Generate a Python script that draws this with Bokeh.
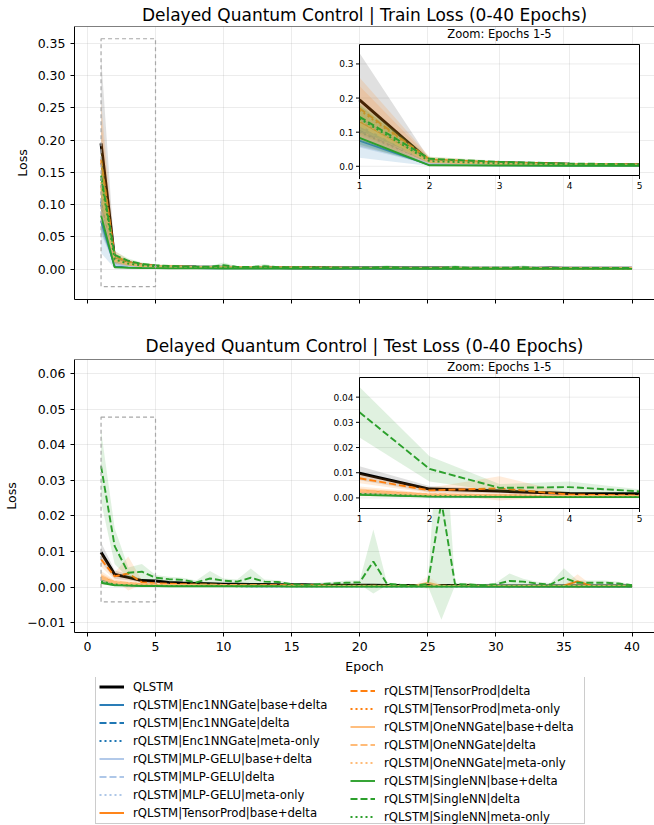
import numpy as np
from bokeh.plotting import figure
from bokeh.models import Range1d, FixedTicker, Legend, LegendItem, Span, CustomJSTickFormatter
from bokeh.layouts import column
from bokeh.embed import file_html
from bokeh.resources import INLINE
from bokeh.core.properties import value

# ---------------- data ----------------
epochs = list(range(1, 41))
x_ticks = [0, 5, 10, 15, 20, 25, 30, 35, 40]
train_y_ticks = [0.0, 0.05, 0.10, 0.15, 0.20, 0.25, 0.30, 0.35]
test_y_ticks = [-0.01, 0.0, 0.01, 0.02, 0.03, 0.04, 0.05, 0.06]
train_y_limits = [-0.047, 0.376]
test_y_limits = [-0.0128, 0.064]
zoom_epochs = [1, 5]
train_zoom_y = [-0.027, 0.357]
test_zoom_y = [-0.0042, 0.0478]
inset_x_ticks = [1, 2, 3, 4, 5]
inset_x_labels = ["1", "2", "3", "4", "5"]
train_inset_y_ticks = [0.0, 0.1, 0.2, 0.3]
train_inset_y_labels = ["0.0", "0.1", "0.2", "0.3"]
test_inset_y_ticks = [0.0, 0.01, 0.02, 0.03, 0.04]
test_inset_y_labels = ["0.00", "0.01", "0.02", "0.03", "0.04"]

series_names = [
    "QLSTM",
    "rQLSTM|Enc1NNGate|base+delta", "rQLSTM|Enc1NNGate|delta", "rQLSTM|Enc1NNGate|meta-only",
    "rQLSTM|MLP-GELU|base+delta", "rQLSTM|MLP-GELU|delta", "rQLSTM|MLP-GELU|meta-only",
    "rQLSTM|TensorProd|base+delta", "rQLSTM|TensorProd|delta", "rQLSTM|TensorProd|meta-only",
    "rQLSTM|OneNNGate|base+delta", "rQLSTM|OneNNGate|delta", "rQLSTM|OneNNGate|meta-only",
    "rQLSTM|SingleNN|base+delta", "rQLSTM|SingleNN|delta", "rQLSTM|SingleNN|meta-only",
]

# ---- train loss (mean / std) ----
qlstm_train = [0.195, 0.0150, 0.0100, 0.0060, 0.0045, 0.0040, 0.0036, 0.0033, 0.0031, 0.0029, 0.0027, 0.0026, 0.0025, 0.0024, 0.0023, 0.0022, 0.0021, 0.0020, 0.0020, 0.0019, 0.0019, 0.0018, 0.0018, 0.0017, 0.0017, 0.0017, 0.0016, 0.0016, 0.0016, 0.0015, 0.0015, 0.0015, 0.0015, 0.0019, 0.0015, 0.0014, 0.0014, 0.0014, 0.0013, 0.0013]
qlstm_train_sd = [0.137, 0.0060, 0.0040, 0.0020, 0.0015, 0.0012, 0.0011, 0.0010, 0.0010, 0.0009, 0.0009, 0.0008, 0.0008, 0.0008, 0.0007, 0.0007, 0.0007, 0.0006, 0.0006, 0.0006, 0.0006, 0.0006, 0.0005, 0.0005, 0.0005, 0.0005, 0.0005, 0.0005, 0.0005, 0.0004, 0.0004, 0.0004, 0.0004, 0.0012, 0.0005, 0.0004, 0.0004, 0.0004, 0.0004, 0.0004]
enc_bd_train = [0.075, 0.0040, 0.0030, 0.0025, 0.0021, 0.0019, 0.0017, 0.0016, 0.0015, 0.0015, 0.0014, 0.0013, 0.0013, 0.0012, 0.0012, 0.0012, 0.0011, 0.0011, 0.0011, 0.0010, 0.0010, 0.0010, 0.0010, 0.0009, 0.0009, 0.0009, 0.0009, 0.0009, 0.0008, 0.0008, 0.0008, 0.0008, 0.0008, 0.0008, 0.0007, 0.0007, 0.0007, 0.0007, 0.0007, 0.0007]
enc_bd_train_sd = [0.050, 0.0030, 0.0015, 0.0012, 0.0010, 0.0009, 0.0008, 0.0008, 0.0007, 0.0007, 0.0007, 0.0006, 0.0006, 0.0006, 0.0006, 0.0005, 0.0005, 0.0005, 0.0005, 0.0005, 0.0005, 0.0004, 0.0004, 0.0004, 0.0004, 0.0004, 0.0004, 0.0004, 0.0004, 0.0004, 0.0003, 0.0003, 0.0003, 0.0003, 0.0003, 0.0003, 0.0003, 0.0003, 0.0003, 0.0003]
enc_d_train = [0.105, 0.0120, 0.0070, 0.0050, 0.0040, 0.0034, 0.0030, 0.0028, 0.0026, 0.0025, 0.0024, 0.0023, 0.0022, 0.0021, 0.0020, 0.0020, 0.0019, 0.0018, 0.0018, 0.0017, 0.0017, 0.0017, 0.0016, 0.0016, 0.0016, 0.0015, 0.0015, 0.0015, 0.0014, 0.0014, 0.0014, 0.0014, 0.0013, 0.0013, 0.0013, 0.0013, 0.0012, 0.0012, 0.0012, 0.0012]
enc_d_train_sd = [0.040, 0.0050, 0.0025, 0.0018, 0.0014, 0.0012, 0.0011, 0.0010, 0.0010, 0.0009, 0.0009, 0.0008, 0.0008, 0.0008, 0.0007, 0.0007, 0.0007, 0.0007, 0.0006, 0.0006, 0.0006, 0.0006, 0.0006, 0.0006, 0.0005, 0.0005, 0.0005, 0.0005, 0.0005, 0.0005, 0.0005, 0.0005, 0.0004, 0.0004, 0.0004, 0.0004, 0.0004, 0.0004, 0.0004, 0.0004]
enc_m_train = [0.100, 0.0100, 0.0060, 0.0042, 0.0035, 0.0031, 0.0028, 0.0026, 0.0025, 0.0024, 0.0023, 0.0022, 0.0021, 0.0020, 0.0019, 0.0019, 0.0018, 0.0018, 0.0017, 0.0017, 0.0016, 0.0016, 0.0016, 0.0015, 0.0015, 0.0015, 0.0014, 0.0014, 0.0014, 0.0014, 0.0013, 0.0013, 0.0013, 0.0013, 0.0012, 0.0012, 0.0012, 0.0012, 0.0012, 0.0011]
enc_m_train_sd = [0.045, 0.0045, 0.0022, 0.0016, 0.0013, 0.0011, 0.0010, 0.0009, 0.0009, 0.0008, 0.0008, 0.0008, 0.0007, 0.0007, 0.0007, 0.0007, 0.0006, 0.0006, 0.0006, 0.0006, 0.0006, 0.0005, 0.0005, 0.0005, 0.0005, 0.0005, 0.0005, 0.0005, 0.0005, 0.0004, 0.0004, 0.0004, 0.0004, 0.0004, 0.0004, 0.0004, 0.0004, 0.0004, 0.0004, 0.0004]
mlp_bd_train = [0.090, 0.0080, 0.0050, 0.0036, 0.0030, 0.0027, 0.0025, 0.0023, 0.0022, 0.0021, 0.0020, 0.0019, 0.0018, 0.0018, 0.0017, 0.0017, 0.0016, 0.0016, 0.0015, 0.0015, 0.0015, 0.0014, 0.0014, 0.0014, 0.0013, 0.0013, 0.0013, 0.0013, 0.0012, 0.0012, 0.0012, 0.0012, 0.0012, 0.0011, 0.0011, 0.0011, 0.0011, 0.0011, 0.0010, 0.0010]
mlp_bd_train_sd = [0.030, 0.0035, 0.0018, 0.0013, 0.0011, 0.0010, 0.0009, 0.0008, 0.0008, 0.0007, 0.0007, 0.0007, 0.0006, 0.0006, 0.0006, 0.0006, 0.0005, 0.0005, 0.0005, 0.0005, 0.0005, 0.0005, 0.0004, 0.0004, 0.0004, 0.0004, 0.0004, 0.0004, 0.0004, 0.0004, 0.0004, 0.0003, 0.0003, 0.0003, 0.0003, 0.0003, 0.0003, 0.0003, 0.0003, 0.0003]
mlp_d_train = [0.110, 0.0120, 0.0068, 0.0046, 0.0037, 0.0032, 0.0029, 0.0027, 0.0025, 0.0024, 0.0023, 0.0022, 0.0021, 0.0020, 0.0020, 0.0019, 0.0018, 0.0018, 0.0017, 0.0017, 0.0017, 0.0016, 0.0016, 0.0015, 0.0015, 0.0015, 0.0015, 0.0014, 0.0014, 0.0014, 0.0014, 0.0013, 0.0013, 0.0013, 0.0013, 0.0012, 0.0012, 0.0012, 0.0012, 0.0012]
mlp_d_train_sd = [0.030, 0.0045, 0.0022, 0.0015, 0.0012, 0.0011, 0.0010, 0.0009, 0.0009, 0.0008, 0.0008, 0.0008, 0.0007, 0.0007, 0.0007, 0.0006, 0.0006, 0.0006, 0.0006, 0.0006, 0.0005, 0.0005, 0.0005, 0.0005, 0.0005, 0.0005, 0.0005, 0.0004, 0.0004, 0.0004, 0.0004, 0.0004, 0.0004, 0.0004, 0.0004, 0.0004, 0.0004, 0.0004, 0.0003, 0.0003]
mlp_m_train = [0.120, 0.0130, 0.0072, 0.0048, 0.0038, 0.0033, 0.0030, 0.0028, 0.0026, 0.0025, 0.0024, 0.0023, 0.0022, 0.0021, 0.0020, 0.0020, 0.0019, 0.0018, 0.0018, 0.0018, 0.0017, 0.0017, 0.0016, 0.0016, 0.0016, 0.0015, 0.0015, 0.0015, 0.0015, 0.0014, 0.0014, 0.0014, 0.0014, 0.0013, 0.0013, 0.0013, 0.0013, 0.0013, 0.0012, 0.0012]
mlp_m_train_sd = [0.030, 0.0050, 0.0024, 0.0016, 0.0013, 0.0011, 0.0010, 0.0010, 0.0009, 0.0009, 0.0008, 0.0008, 0.0008, 0.0007, 0.0007, 0.0007, 0.0007, 0.0006, 0.0006, 0.0006, 0.0006, 0.0006, 0.0005, 0.0005, 0.0005, 0.0005, 0.0005, 0.0005, 0.0005, 0.0004, 0.0004, 0.0004, 0.0004, 0.0004, 0.0004, 0.0004, 0.0004, 0.0004, 0.0004, 0.0004]
tp_bd_train = [0.130, 0.0140, 0.0080, 0.0055, 0.0042, 0.0036, 0.0032, 0.0030, 0.0028, 0.0026, 0.0025, 0.0024, 0.0023, 0.0022, 0.0021, 0.0021, 0.0020, 0.0019, 0.0019, 0.0018, 0.0018, 0.0017, 0.0017, 0.0017, 0.0016, 0.0020, 0.0016, 0.0015, 0.0015, 0.0015, 0.0015, 0.0014, 0.0014, 0.0014, 0.0014, 0.0018, 0.0014, 0.0013, 0.0013, 0.0013]
tp_bd_train_sd = [0.050, 0.0055, 0.0030, 0.0020, 0.0016, 0.0014, 0.0012, 0.0011, 0.0010, 0.0010, 0.0009, 0.0009, 0.0008, 0.0008, 0.0008, 0.0008, 0.0007, 0.0007, 0.0007, 0.0007, 0.0006, 0.0006, 0.0006, 0.0006, 0.0006, 0.0025, 0.0006, 0.0005, 0.0005, 0.0005, 0.0005, 0.0005, 0.0005, 0.0005, 0.0005, 0.0020, 0.0005, 0.0004, 0.0004, 0.0004]
tp_d_train = [0.170, 0.0200, 0.0110, 0.0070, 0.0052, 0.0044, 0.0039, 0.0035, 0.0032, 0.0030, 0.0029, 0.0027, 0.0026, 0.0025, 0.0024, 0.0023, 0.0022, 0.0022, 0.0021, 0.0020, 0.0020, 0.0019, 0.0019, 0.0018, 0.0018, 0.0018, 0.0017, 0.0017, 0.0017, 0.0016, 0.0016, 0.0016, 0.0015, 0.0015, 0.0015, 0.0015, 0.0015, 0.0014, 0.0014, 0.0014]
tp_d_train_sd = [0.090, 0.0080, 0.0040, 0.0025, 0.0019, 0.0016, 0.0014, 0.0013, 0.0012, 0.0011, 0.0010, 0.0010, 0.0009, 0.0009, 0.0009, 0.0008, 0.0008, 0.0008, 0.0007, 0.0007, 0.0007, 0.0007, 0.0007, 0.0006, 0.0006, 0.0006, 0.0006, 0.0006, 0.0006, 0.0005, 0.0005, 0.0005, 0.0005, 0.0005, 0.0005, 0.0005, 0.0005, 0.0005, 0.0005, 0.0005]
tp_m_train = [0.165, 0.0180, 0.0100, 0.0066, 0.0050, 0.0043, 0.0038, 0.0034, 0.0031, 0.0029, 0.0028, 0.0026, 0.0025, 0.0024, 0.0023, 0.0022, 0.0022, 0.0021, 0.0020, 0.0020, 0.0019, 0.0019, 0.0018, 0.0018, 0.0018, 0.0017, 0.0017, 0.0017, 0.0016, 0.0016, 0.0016, 0.0015, 0.0015, 0.0015, 0.0015, 0.0015, 0.0014, 0.0014, 0.0014, 0.0014]
tp_m_train_sd = [0.070, 0.0070, 0.0035, 0.0023, 0.0018, 0.0015, 0.0013, 0.0012, 0.0011, 0.0010, 0.0010, 0.0009, 0.0009, 0.0008, 0.0008, 0.0008, 0.0008, 0.0007, 0.0007, 0.0007, 0.0007, 0.0006, 0.0006, 0.0006, 0.0006, 0.0006, 0.0006, 0.0006, 0.0005, 0.0005, 0.0005, 0.0005, 0.0005, 0.0005, 0.0005, 0.0005, 0.0005, 0.0005, 0.0004, 0.0004]
one_bd_train = [0.125, 0.0130, 0.0075, 0.0052, 0.0042, 0.0045, 0.0040, 0.0030, 0.0027, 0.0026, 0.0024, 0.0023, 0.0022, 0.0021, 0.0021, 0.0020, 0.0019, 0.0019, 0.0018, 0.0018, 0.0017, 0.0017, 0.0017, 0.0016, 0.0016, 0.0016, 0.0015, 0.0015, 0.0015, 0.0015, 0.0014, 0.0014, 0.0014, 0.0014, 0.0013, 0.0013, 0.0013, 0.0013, 0.0013, 0.0012]
one_bd_train_sd = [0.050, 0.0050, 0.0028, 0.0019, 0.0016, 0.0030, 0.0025, 0.0011, 0.0010, 0.0009, 0.0009, 0.0008, 0.0008, 0.0008, 0.0007, 0.0007, 0.0007, 0.0007, 0.0006, 0.0006, 0.0006, 0.0006, 0.0006, 0.0005, 0.0005, 0.0005, 0.0005, 0.0005, 0.0005, 0.0005, 0.0005, 0.0005, 0.0004, 0.0004, 0.0004, 0.0004, 0.0004, 0.0004, 0.0004, 0.0004]
one_d_train = [0.120, 0.0150, 0.0085, 0.0058, 0.0045, 0.0039, 0.0035, 0.0032, 0.0029, 0.0027, 0.0026, 0.0025, 0.0024, 0.0023, 0.0022, 0.0021, 0.0021, 0.0020, 0.0019, 0.0019, 0.0018, 0.0018, 0.0018, 0.0017, 0.0017, 0.0016, 0.0016, 0.0016, 0.0016, 0.0015, 0.0015, 0.0015, 0.0015, 0.0014, 0.0014, 0.0014, 0.0014, 0.0013, 0.0013, 0.0013]
one_d_train_sd = [0.040, 0.0060, 0.0030, 0.0020, 0.0016, 0.0014, 0.0012, 0.0011, 0.0010, 0.0010, 0.0009, 0.0009, 0.0008, 0.0008, 0.0008, 0.0007, 0.0007, 0.0007, 0.0007, 0.0006, 0.0006, 0.0006, 0.0006, 0.0006, 0.0005, 0.0005, 0.0005, 0.0005, 0.0005, 0.0005, 0.0005, 0.0005, 0.0004, 0.0004, 0.0004, 0.0004, 0.0004, 0.0004, 0.0004, 0.0004]
one_m_train = [0.135, 0.0160, 0.0090, 0.0060, 0.0047, 0.0040, 0.0036, 0.0033, 0.0030, 0.0028, 0.0027, 0.0026, 0.0025, 0.0024, 0.0023, 0.0022, 0.0021, 0.0021, 0.0020, 0.0019, 0.0019, 0.0019, 0.0018, 0.0018, 0.0017, 0.0017, 0.0017, 0.0016, 0.0016, 0.0016, 0.0016, 0.0015, 0.0015, 0.0015, 0.0015, 0.0014, 0.0014, 0.0014, 0.0014, 0.0014]
one_m_train_sd = [0.050, 0.0060, 0.0032, 0.0021, 0.0017, 0.0014, 0.0013, 0.0012, 0.0011, 0.0010, 0.0010, 0.0009, 0.0009, 0.0008, 0.0008, 0.0008, 0.0007, 0.0007, 0.0007, 0.0007, 0.0006, 0.0006, 0.0006, 0.0006, 0.0006, 0.0006, 0.0005, 0.0005, 0.0005, 0.0005, 0.0005, 0.0005, 0.0005, 0.0005, 0.0004, 0.0004, 0.0004, 0.0004, 0.0004, 0.0004]
sn_bd_train = [0.083, 0.0030, 0.0022, 0.0018, 0.0016, 0.0014, 0.0013, 0.0012, 0.0012, 0.0011, 0.0011, 0.0010, 0.0010, 0.0010, 0.0009, 0.0009, 0.0009, 0.0009, 0.0008, 0.0008, 0.0008, 0.0008, 0.0008, 0.0007, 0.0007, 0.0007, 0.0007, 0.0007, 0.0007, 0.0007, 0.0006, 0.0006, 0.0006, 0.0006, 0.0006, 0.0006, 0.0006, 0.0006, 0.0006, 0.0005]
sn_bd_train_sd = [0.020, 0.0010, 0.0008, 0.0007, 0.0006, 0.0006, 0.0005, 0.0005, 0.0005, 0.0005, 0.0004, 0.0004, 0.0004, 0.0004, 0.0004, 0.0004, 0.0004, 0.0003, 0.0003, 0.0003, 0.0003, 0.0003, 0.0003, 0.0003, 0.0003, 0.0003, 0.0003, 0.0003, 0.0003, 0.0003, 0.0003, 0.0002, 0.0002, 0.0002, 0.0002, 0.0002, 0.0002, 0.0002, 0.0002, 0.0002]
sn_d_train = [0.145, 0.0220, 0.0130, 0.0080, 0.0060, 0.0050, 0.0044, 0.0040, 0.0038, 0.0060, 0.0036, 0.0034, 0.0045, 0.0032, 0.0030, 0.0029, 0.0028, 0.0027, 0.0027, 0.0026, 0.0025, 0.0036, 0.0025, 0.0024, 0.0023, 0.0023, 0.0034, 0.0022, 0.0022, 0.0021, 0.0021, 0.0032, 0.0020, 0.0020, 0.0020, 0.0019, 0.0019, 0.0019, 0.0018, 0.0018]
sn_d_train_sd = [0.040, 0.0060, 0.0035, 0.0022, 0.0017, 0.0014, 0.0013, 0.0012, 0.0011, 0.0045, 0.0010, 0.0010, 0.0035, 0.0009, 0.0009, 0.0008, 0.0008, 0.0008, 0.0008, 0.0007, 0.0007, 0.0030, 0.0007, 0.0007, 0.0006, 0.0006, 0.0030, 0.0006, 0.0006, 0.0006, 0.0006, 0.0030, 0.0005, 0.0005, 0.0005, 0.0005, 0.0005, 0.0005, 0.0005, 0.0005]
sn_m_train = [0.140, 0.0150, 0.0085, 0.0058, 0.0045, 0.0039, 0.0035, 0.0032, 0.0030, 0.0028, 0.0027, 0.0026, 0.0025, 0.0024, 0.0023, 0.0022, 0.0021, 0.0021, 0.0020, 0.0020, 0.0019, 0.0019, 0.0018, 0.0018, 0.0018, 0.0017, 0.0017, 0.0017, 0.0016, 0.0016, 0.0016, 0.0016, 0.0015, 0.0015, 0.0015, 0.0015, 0.0014, 0.0014, 0.0014, 0.0014]
sn_m_train_sd = [0.040, 0.0055, 0.0030, 0.0020, 0.0016, 0.0014, 0.0012, 0.0011, 0.0010, 0.0010, 0.0009, 0.0009, 0.0008, 0.0008, 0.0008, 0.0007, 0.0007, 0.0007, 0.0007, 0.0006, 0.0006, 0.0006, 0.0006, 0.0006, 0.0006, 0.0005, 0.0005, 0.0005, 0.0005, 0.0005, 0.0005, 0.0005, 0.0005, 0.0004, 0.0004, 0.0004, 0.0004, 0.0004, 0.0004, 0.0004]

# ---- test loss (mean / std) ----
qlstm_test = [0.0098, 0.0035, 0.0027, 0.0018, 0.0017, 0.0013, 0.0011, 0.0010, 0.0009, 0.0008, 0.0008, 0.0007, 0.0007, 0.0006, 0.0006, 0.0006, 0.0005, 0.0005, 0.0005, 0.0005, 0.0005, 0.0004, 0.0004, 0.0004, 0.0004, 0.0004, 0.0004, 0.0004, 0.0003, 0.0003, 0.0003, 0.0003, 0.0003, 0.0003, 0.0003, 0.0003, 0.0003, 0.0003, 0.0003, 0.0003]
qlstm_test_sd = [0.0028, 0.0012, 0.0008, 0.0005, 0.0005, 0.0004, 0.0003, 0.0003, 0.0003, 0.0003, 0.0002, 0.0002, 0.0002, 0.0002, 0.0002, 0.0002, 0.0002, 0.0002, 0.0002, 0.0002, 0.0002, 0.0002, 0.0001, 0.0001, 0.0001, 0.0001, 0.0001, 0.0001, 0.0001, 0.0001, 0.0001, 0.0001, 0.0001, 0.0001, 0.0001, 0.0001, 0.0001, 0.0001, 0.0001, 0.0001]
enc_bd_test = [0.0015, 0.0006, 0.0005, 0.0004, 0.0004, 0.0003, 0.0003, 0.0003, 0.0003, 0.0003, 0.0003, 0.0002, 0.0002, 0.0002, 0.0002, 0.0002, 0.0002, 0.0002, 0.0002, 0.0002, 0.0002, 0.0002, 0.0002, 0.0002, 0.0002, 0.0002, 0.0002, 0.0002, 0.0002, 0.0002, 0.0002, 0.0002, 0.0002, 0.0002, 0.0002, 0.0002, 0.0002, 0.0002, 0.0002, 0.0002]
enc_bd_test_sd = [0.0006, 0.0003, 0.0002, 0.0002, 0.0002, 0.0001, 0.0001, 0.0001, 0.0001, 0.0001, 0.0001, 0.0001, 0.0001, 0.0001, 0.0001, 0.0001, 0.0001, 0.0001, 0.0001, 0.0001, 0.0001, 0.0001, 0.0001, 0.0001, 0.0001, 0.0001, 0.0001, 0.0001, 0.0001, 0.0001, 0.0001, 0.0001, 0.0001, 0.0001, 0.0001, 0.0001, 0.0001, 0.0001, 0.0001, 0.0001]
enc_d_test = [0.0022, 0.0010, 0.0008, 0.0006, 0.0005, 0.0005, 0.0004, 0.0004, 0.0004, 0.0004, 0.0003, 0.0003, 0.0003, 0.0003, 0.0003, 0.0003, 0.0003, 0.0003, 0.0003, 0.0003, 0.0003, 0.0003, 0.0003, 0.0003, 0.0003, 0.0003, 0.0003, 0.0002, 0.0002, 0.0002, 0.0002, 0.0002, 0.0002, 0.0002, 0.0002, 0.0002, 0.0002, 0.0002, 0.0002, 0.0002]
enc_d_test_sd = [0.0008, 0.0004, 0.0003, 0.0002, 0.0002, 0.0002, 0.0002, 0.0001, 0.0001, 0.0001, 0.0001, 0.0001, 0.0001, 0.0001, 0.0001, 0.0001, 0.0001, 0.0001, 0.0001, 0.0001, 0.0001, 0.0001, 0.0001, 0.0001, 0.0001, 0.0001, 0.0001, 0.0001, 0.0001, 0.0001, 0.0001, 0.0001, 0.0001, 0.0001, 0.0001, 0.0001, 0.0001, 0.0001, 0.0001, 0.0001]
enc_m_test = [0.0020, 0.0009, 0.0007, 0.0006, 0.0005, 0.0004, 0.0004, 0.0004, 0.0003, 0.0003, 0.0003, 0.0003, 0.0003, 0.0003, 0.0003, 0.0003, 0.0003, 0.0003, 0.0003, 0.0003, 0.0002, 0.0002, 0.0002, 0.0002, 0.0002, 0.0002, 0.0002, 0.0002, 0.0002, 0.0002, 0.0002, 0.0002, 0.0002, 0.0002, 0.0002, 0.0002, 0.0002, 0.0002, 0.0002, 0.0002]
enc_m_test_sd = [0.0007, 0.0004, 0.0003, 0.0002, 0.0002, 0.0002, 0.0001, 0.0001, 0.0001, 0.0001, 0.0001, 0.0001, 0.0001, 0.0001, 0.0001, 0.0001, 0.0001, 0.0001, 0.0001, 0.0001, 0.0001, 0.0001, 0.0001, 0.0001, 0.0001, 0.0001, 0.0001, 0.0001, 0.0001, 0.0001, 0.0001, 0.0001, 0.0001, 0.0001, 0.0001, 0.0001, 0.0001, 0.0001, 0.0001, 0.0001]
mlp_bd_test = [0.0016, 0.0007, 0.0006, 0.0005, 0.0004, 0.0004, 0.0003, 0.0003, 0.0003, 0.0003, 0.0003, 0.0003, 0.0003, 0.0002, 0.0002, 0.0002, 0.0002, 0.0002, 0.0002, 0.0002, 0.0002, 0.0002, 0.0002, 0.0002, 0.0002, 0.0002, 0.0002, 0.0002, 0.0002, 0.0002, 0.0002, 0.0002, 0.0002, 0.0002, 0.0002, 0.0002, 0.0002, 0.0002, 0.0002, 0.0002]
mlp_bd_test_sd = [0.0006, 0.0003, 0.0002, 0.0002, 0.0002, 0.0001, 0.0001, 0.0001, 0.0001, 0.0001, 0.0001, 0.0001, 0.0001, 0.0001, 0.0001, 0.0001, 0.0001, 0.0001, 0.0001, 0.0001, 0.0001, 0.0001, 0.0001, 0.0001, 0.0001, 0.0001, 0.0001, 0.0001, 0.0001, 0.0001, 0.0001, 0.0001, 0.0001, 0.0001, 0.0001, 0.0001, 0.0001, 0.0001, 0.0001, 0.0001]
mlp_d_test = [0.0024, 0.0011, 0.0009, 0.0007, 0.0006, 0.0005, 0.0005, 0.0004, 0.0004, 0.0004, 0.0004, 0.0003, 0.0003, 0.0003, 0.0003, 0.0003, 0.0003, 0.0003, 0.0003, 0.0003, 0.0003, 0.0003, 0.0003, 0.0003, 0.0003, 0.0003, 0.0003, 0.0003, 0.0002, 0.0002, 0.0002, 0.0002, 0.0002, 0.0002, 0.0002, 0.0002, 0.0002, 0.0002, 0.0002, 0.0002]
mlp_d_test_sd = [0.0008, 0.0004, 0.0003, 0.0003, 0.0002, 0.0002, 0.0002, 0.0001, 0.0001, 0.0001, 0.0001, 0.0001, 0.0001, 0.0001, 0.0001, 0.0001, 0.0001, 0.0001, 0.0001, 0.0001, 0.0001, 0.0001, 0.0001, 0.0001, 0.0001, 0.0001, 0.0001, 0.0001, 0.0001, 0.0001, 0.0001, 0.0001, 0.0001, 0.0001, 0.0001, 0.0001, 0.0001, 0.0001, 0.0001, 0.0001]
mlp_m_test = [0.0021, 0.0010, 0.0008, 0.0006, 0.0005, 0.0005, 0.0004, 0.0004, 0.0004, 0.0003, 0.0003, 0.0003, 0.0003, 0.0003, 0.0003, 0.0003, 0.0003, 0.0003, 0.0003, 0.0003, 0.0003, 0.0002, 0.0002, 0.0002, 0.0002, 0.0002, 0.0002, 0.0002, 0.0002, 0.0002, 0.0002, 0.0002, 0.0002, 0.0002, 0.0002, 0.0002, 0.0002, 0.0002, 0.0002, 0.0002]
mlp_m_test_sd = [0.0007, 0.0004, 0.0003, 0.0002, 0.0002, 0.0002, 0.0001, 0.0001, 0.0001, 0.0001, 0.0001, 0.0001, 0.0001, 0.0001, 0.0001, 0.0001, 0.0001, 0.0001, 0.0001, 0.0001, 0.0001, 0.0001, 0.0001, 0.0001, 0.0001, 0.0001, 0.0001, 0.0001, 0.0001, 0.0001, 0.0001, 0.0001, 0.0001, 0.0001, 0.0001, 0.0001, 0.0001, 0.0001, 0.0001, 0.0001]
tp_bd_test = [0.0028, 0.0012, 0.0009, 0.0007, 0.0006, 0.0006, 0.0005, 0.0005, 0.0005, 0.0004, 0.0004, 0.0004, 0.0004, 0.0004, 0.0004, 0.0003, 0.0003, 0.0003, 0.0003, 0.0003, 0.0003, 0.0003, 0.0003, 0.0003, 0.0003, 0.0003, 0.0003, 0.0003, 0.0003, 0.0003, 0.0003, 0.0003, 0.0003, 0.0003, 0.0004, 0.0016, 0.0004, 0.0003, 0.0003, 0.0003]
tp_bd_test_sd = [0.0009, 0.0005, 0.0004, 0.0003, 0.0003, 0.0002, 0.0002, 0.0002, 0.0002, 0.0002, 0.0002, 0.0001, 0.0001, 0.0001, 0.0001, 0.0001, 0.0001, 0.0001, 0.0001, 0.0001, 0.0001, 0.0001, 0.0001, 0.0001, 0.0001, 0.0001, 0.0001, 0.0001, 0.0001, 0.0001, 0.0001, 0.0001, 0.0001, 0.0001, 0.0002, 0.0020, 0.0002, 0.0001, 0.0001, 0.0001]
tp_d_test = [0.0078, 0.0030, 0.0038, 0.0013, 0.0010, 0.0009, 0.0008, 0.0007, 0.0007, 0.0006, 0.0006, 0.0006, 0.0005, 0.0005, 0.0005, 0.0005, 0.0005, 0.0004, 0.0004, 0.0004, 0.0004, 0.0004, 0.0004, 0.0004, 0.0004, 0.0004, 0.0004, 0.0003, 0.0003, 0.0003, 0.0003, 0.0003, 0.0003, 0.0003, 0.0003, 0.0003, 0.0003, 0.0003, 0.0003, 0.0003]
tp_d_test_sd = [0.0020, 0.0010, 0.0048, 0.0006, 0.0004, 0.0003, 0.0003, 0.0003, 0.0002, 0.0002, 0.0002, 0.0002, 0.0002, 0.0002, 0.0002, 0.0002, 0.0001, 0.0001, 0.0001, 0.0001, 0.0001, 0.0001, 0.0001, 0.0001, 0.0001, 0.0001, 0.0001, 0.0001, 0.0001, 0.0001, 0.0001, 0.0001, 0.0001, 0.0001, 0.0001, 0.0001, 0.0001, 0.0001, 0.0001, 0.0001]
tp_m_test = [0.0027, 0.0013, 0.0010, 0.0008, 0.0007, 0.0006, 0.0006, 0.0005, 0.0005, 0.0005, 0.0004, 0.0004, 0.0004, 0.0004, 0.0004, 0.0004, 0.0003, 0.0003, 0.0003, 0.0003, 0.0003, 0.0003, 0.0003, 0.0003, 0.0003, 0.0003, 0.0003, 0.0003, 0.0003, 0.0003, 0.0003, 0.0003, 0.0003, 0.0003, 0.0003, 0.0003, 0.0003, 0.0003, 0.0003, 0.0003]
tp_m_test_sd = [0.0010, 0.0005, 0.0004, 0.0003, 0.0003, 0.0002, 0.0002, 0.0002, 0.0002, 0.0002, 0.0001, 0.0001, 0.0001, 0.0001, 0.0001, 0.0001, 0.0001, 0.0001, 0.0001, 0.0001, 0.0001, 0.0001, 0.0001, 0.0001, 0.0001, 0.0001, 0.0001, 0.0001, 0.0001, 0.0001, 0.0001, 0.0001, 0.0001, 0.0001, 0.0001, 0.0001, 0.0001, 0.0001, 0.0001, 0.0001]
one_bd_test = [0.0025, 0.0012, 0.0009, 0.0007, 0.0006, 0.0006, 0.0005, 0.0005, 0.0004, 0.0004, 0.0004, 0.0004, 0.0004, 0.0003, 0.0003, 0.0003, 0.0003, 0.0003, 0.0003, 0.0003, 0.0003, 0.0003, 0.0003, 0.0003, 0.0012, 0.0003, 0.0003, 0.0003, 0.0003, 0.0003, 0.0003, 0.0003, 0.0003, 0.0003, 0.0003, 0.0003, 0.0003, 0.0003, 0.0003, 0.0003]
one_bd_test_sd = [0.0020, 0.0008, 0.0005, 0.0004, 0.0003, 0.0003, 0.0002, 0.0002, 0.0002, 0.0002, 0.0002, 0.0001, 0.0001, 0.0001, 0.0001, 0.0001, 0.0001, 0.0001, 0.0001, 0.0001, 0.0001, 0.0001, 0.0001, 0.0001, 0.0018, 0.0001, 0.0001, 0.0001, 0.0001, 0.0001, 0.0001, 0.0001, 0.0001, 0.0001, 0.0001, 0.0001, 0.0001, 0.0001, 0.0001, 0.0001]
one_d_test = [0.0030, 0.0014, 0.0011, 0.0008, 0.0007, 0.0006, 0.0006, 0.0005, 0.0005, 0.0005, 0.0004, 0.0004, 0.0004, 0.0004, 0.0004, 0.0004, 0.0003, 0.0003, 0.0003, 0.0003, 0.0003, 0.0003, 0.0003, 0.0003, 0.0003, 0.0003, 0.0003, 0.0006, 0.0003, 0.0003, 0.0003, 0.0003, 0.0003, 0.0003, 0.0003, 0.0003, 0.0003, 0.0003, 0.0003, 0.0003]
one_d_test_sd = [0.0015, 0.0006, 0.0004, 0.0003, 0.0003, 0.0002, 0.0002, 0.0002, 0.0002, 0.0002, 0.0001, 0.0001, 0.0001, 0.0001, 0.0001, 0.0001, 0.0001, 0.0001, 0.0001, 0.0001, 0.0001, 0.0001, 0.0001, 0.0001, 0.0001, 0.0001, 0.0001, 0.0007, 0.0001, 0.0001, 0.0001, 0.0001, 0.0001, 0.0001, 0.0001, 0.0001, 0.0001, 0.0001, 0.0001, 0.0001]
one_m_test = [0.0023, 0.0011, 0.0008, 0.0007, 0.0006, 0.0005, 0.0005, 0.0004, 0.0004, 0.0004, 0.0004, 0.0003, 0.0003, 0.0003, 0.0003, 0.0003, 0.0003, 0.0003, 0.0003, 0.0003, 0.0003, 0.0003, 0.0003, 0.0003, 0.0003, 0.0003, 0.0003, 0.0003, 0.0003, 0.0003, 0.0002, 0.0002, 0.0002, 0.0002, 0.0002, 0.0002, 0.0002, 0.0002, 0.0002, 0.0002]
one_m_test_sd = [0.0010, 0.0005, 0.0003, 0.0003, 0.0002, 0.0002, 0.0002, 0.0002, 0.0001, 0.0001, 0.0001, 0.0001, 0.0001, 0.0001, 0.0001, 0.0001, 0.0001, 0.0001, 0.0001, 0.0001, 0.0001, 0.0001, 0.0001, 0.0001, 0.0001, 0.0001, 0.0001, 0.0001, 0.0001, 0.0001, 0.0001, 0.0001, 0.0001, 0.0001, 0.0001, 0.0001, 0.0001, 0.0001, 0.0001, 0.0001]
sn_bd_test = [0.0012, 0.0005, 0.0004, 0.0003, 0.0003, 0.0002, 0.0002, 0.0002, 0.0002, 0.0002, 0.0002, 0.0002, 0.0002, 0.0002, 0.0001, 0.0001, 0.0001, 0.0001, 0.0001, 0.0001, 0.0001, 0.0001, 0.0001, 0.0001, 0.0001, 0.0001, 0.0001, 0.0001, 0.0001, 0.0001, 0.0001, 0.0001, 0.0001, 0.0001, 0.0001, 0.0001, 0.0001, 0.0001, 0.0001, 0.0001]
sn_bd_test_sd = [0.0004, 0.0002, 0.0001, 0.0001, 0.0001, 0.0001, 0.0001, 0.0001, 0.0001, 0.0001, 0.0001, 0.0001, 0.0001, 0.0001, 0.0001, 0.0001, 0.0001, 0.0001, 0.0001, 0.0001, 0.0001, 0.0001, 0.0001, 0.0001, 0.0001, 0.0001, 0.0001, 0.0001, 0.0001, 0.0001, 0.0001, 0.0001, 0.0001, 0.0001, 0.0001, 0.0001, 0.0001, 0.0001, 0.0001, 0.0001]
sn_d_test = [0.0340, 0.0115, 0.0040, 0.0043, 0.0026, 0.0022, 0.0020, 0.0013, 0.0024, 0.0018, 0.0015, 0.0026, 0.0015, 0.0014, 0.0008, 0.0006, 0.0008, 0.0010, 0.0012, 0.0013, 0.0072, 0.0009, 0.0006, 0.0004, 0.0008, 0.0240, 0.0008, 0.0007, 0.0005, 0.0008, 0.0017, 0.0015, 0.0010, 0.0007, 0.0026, 0.0012, 0.0012, 0.0012, 0.0010, 0.0005]
sn_d_test_sd = [0.0100, 0.0050, 0.0015, 0.0022, 0.0008, 0.0007, 0.0006, 0.0005, 0.0021, 0.0006, 0.0006, 0.0026, 0.0006, 0.0005, 0.0003, 0.0003, 0.0004, 0.0005, 0.0006, 0.0006, 0.0090, 0.0004, 0.0003, 0.0003, 0.0005, 0.0332, 0.0004, 0.0004, 0.0003, 0.0004, 0.0021, 0.0008, 0.0005, 0.0004, 0.0027, 0.0006, 0.0006, 0.0006, 0.0005, 0.0003]
sn_m_test = [0.0016, 0.0007, 0.0005, 0.0004, 0.0004, 0.0003, 0.0003, 0.0003, 0.0003, 0.0003, 0.0002, 0.0002, 0.0002, 0.0002, 0.0002, 0.0002, 0.0002, 0.0002, 0.0002, 0.0002, 0.0002, 0.0002, 0.0002, 0.0002, 0.0002, 0.0002, 0.0002, 0.0002, 0.0002, 0.0002, 0.0002, 0.0002, 0.0002, 0.0002, 0.0002, 0.0002, 0.0002, 0.0002, 0.0002, 0.0002]
sn_m_test_sd = [0.0005, 0.0003, 0.0002, 0.0002, 0.0001, 0.0001, 0.0001, 0.0001, 0.0001, 0.0001, 0.0001, 0.0001, 0.0001, 0.0001, 0.0001, 0.0001, 0.0001, 0.0001, 0.0001, 0.0001, 0.0001, 0.0001, 0.0001, 0.0001, 0.0001, 0.0001, 0.0001, 0.0001, 0.0001, 0.0001, 0.0001, 0.0001, 0.0001, 0.0001, 0.0001, 0.0001, 0.0001, 0.0001, 0.0001, 0.0001]

train_means = [qlstm_train, enc_bd_train, enc_d_train, enc_m_train, mlp_bd_train, mlp_d_train, mlp_m_train,
               tp_bd_train, tp_d_train, tp_m_train, one_bd_train, one_d_train, one_m_train,
               sn_bd_train, sn_d_train, sn_m_train]
train_sds = [qlstm_train_sd, enc_bd_train_sd, enc_d_train_sd, enc_m_train_sd, mlp_bd_train_sd, mlp_d_train_sd, mlp_m_train_sd,
             tp_bd_train_sd, tp_d_train_sd, tp_m_train_sd, one_bd_train_sd, one_d_train_sd, one_m_train_sd,
             sn_bd_train_sd, sn_d_train_sd, sn_m_train_sd]
test_means = [qlstm_test, enc_bd_test, enc_d_test, enc_m_test, mlp_bd_test, mlp_d_test, mlp_m_test,
              tp_bd_test, tp_d_test, tp_m_test, one_bd_test, one_d_test, one_m_test,
              sn_bd_test, sn_d_test, sn_m_test]
test_sds = [qlstm_test_sd, enc_bd_test_sd, enc_d_test_sd, enc_m_test_sd, mlp_bd_test_sd, mlp_d_test_sd, mlp_m_test_sd,
            tp_bd_test_sd, tp_d_test_sd, tp_m_test_sd, one_bd_test_sd, one_d_test_sd, one_m_test_sd,
            sn_bd_test_sd, sn_d_test_sd, sn_m_test_sd]

# ---------------- styles ----------------
BLUE, LBLUE, ORANGE, LORANGE, GREEN = "#1f77b4", "#aec7e8", "#ff7f0e", "#ffbb78", "#2ca02c"
DASH, DOT = "7 3", "2 3"
line_colors = ["black", BLUE, BLUE, BLUE, LBLUE, LBLUE, LBLUE, ORANGE, ORANGE, ORANGE,
               LORANGE, LORANGE, LORANGE, GREEN, GREEN, GREEN]
line_dashes = ["solid", "solid", DASH, DOT, "solid", DASH, DOT, "solid", DASH, DOT,
               "solid", DASH, DOT, "solid", DASH, DOT]
line_widths = [3.0] + [1.9] * 15
band_alphas = [0.12] + [0.15] * 15
FONT = "DejaVu Sans"
GRID = "#b0b0b0"

W = 654
FRAME_L = 74
FRAME_W = 580
FRAME_H = 273
INSET_L, INSET_R = 359, 639
INSET_T, INSET_B = 18, 149   # offsets from frame top
X_RANGE = (-0.95, 41.65)

YFMT = "return (tick < -1e-12 ? '\\u2212' : '') + Math.abs(tick).toFixed(2);"


def build_panel(title, means, sds, ylim, yticks, zoom_y, in_yticks, in_ylabels,
                top_border, bottom_border, show_x_labels, title_standoff):
    height = top_border + FRAME_H + bottom_border
    p = figure(width=W, height=height, x_range=Range1d(*X_RANGE), y_range=Range1d(*ylim),
               output_backend="svg", toolbar_location=None,
               min_border_left=FRAME_L, min_border_right=0,
               min_border_top=top_border, min_border_bottom=bottom_border)
    p.outline_line_color = None
    p.background_fill_color = "white"
    p.border_fill_color = "white"
    p.title.text = title
    p.title.align = "center"
    p.title.text_font = FONT
    p.title.text_font_size = "17px"
    p.title.text_font_style = "normal"
    p.title.text_color = "black"
    p.title.standoff = title_standoff

    p.xaxis.ticker = FixedTicker(ticks=x_ticks, minor_ticks=[])
    p.yaxis.ticker = FixedTicker(ticks=yticks, minor_ticks=[])
    p.yaxis.formatter = CustomJSTickFormatter(code=YFMT)
    for ax in (p.xaxis, p.yaxis):
        ax.axis_line_color = "black"
        ax.major_tick_line_color = "black"
        ax.major_tick_out = 4
        ax.major_tick_in = 0
        ax.minor_tick_line_color = None
        ax.major_label_text_font = FONT
        ax.major_label_text_font_size = "12.5px"
        ax.major_label_text_color = "black"
        ax.axis_label_text_font = FONT
        ax.axis_label_text_font_size = "12.5px"
        ax.axis_label_text_font_style = "normal"
        ax.axis_label_text_color = "black"
        ax.major_label_standoff = 5
        ax.axis_label_standoff = 5
    p.yaxis.axis_label = "Loss"
    if show_x_labels:
        p.xaxis.axis_label = "Epoch"
    else:
        # shared x axis: ticks only, no labels
        p.xaxis.major_label_text_font_size = "1px"
        p.xaxis.major_label_text_alpha = 0.0
        p.xaxis.major_label_standoff = 0
    p.xgrid.ticker = FixedTicker(ticks=x_ticks, minor_ticks=[])
    p.ygrid.ticker = FixedTicker(ticks=yticks, minor_ticks=[])
    p.grid.grid_line_color = GRID
    p.grid.grid_line_alpha = 0.3
    p.grid.grid_line_width = 0.8
    p.add_layout(Span(location=ylim[1], dimension="width", line_color="black", line_width=1))

    # main curves
    for i in range(len(means)):
        m = np.array(means[i])
        s = np.array(sds[i])
        p.varea(x=epochs, y1=m - s, y2=m + s, fill_color=line_colors[i], fill_alpha=band_alphas[i])
        p.line(epochs, m, line_color=line_colors[i], line_width=line_widths[i],
               line_dash=line_dashes[i])

    # zoom window marker
    zlo, zhi = zoom_y
    p.quad(left=zoom_epochs[0], right=zoom_epochs[1], bottom=zlo, top=zhi,
           fill_color=None, line_color="#a8a8a8", line_dash="4 3", line_width=1.2)

    # inset ranges (sub-frame within the same plot)
    x0, x1 = zoom_epochs
    ixs = (INSET_R - INSET_L) / (x1 - x0)
    ix_start = x0 - (INSET_L - FRAME_L) / ixs
    ix_end = x1 + (FRAME_L + FRAME_W - INSET_R) / ixs
    iys = (INSET_B - INSET_T) / (zhi - zlo)
    iy_end = zhi + INSET_T / iys
    iy_start = zlo - (FRAME_H - INSET_B) / iys
    p.extra_x_ranges = {"ix": Range1d(ix_start, ix_end)}
    p.extra_y_ranges = {"iy": Range1d(iy_start, iy_end)}
    kw = dict(x_range_name="ix", y_range_name="iy")

    p.quad(left=x0, right=x1, bottom=zlo, top=zhi, fill_color="white", line_color=None, **kw)
    nx, ny = len(inset_x_ticks), len(in_yticks)
    p.segment(x0=inset_x_ticks, y0=[zlo] * nx, x1=inset_x_ticks, y1=[zhi] * nx,
              line_color=GRID, line_alpha=0.3, line_width=0.8, **kw)
    p.segment(x0=[x0] * ny, y0=in_yticks, x1=[x1] * ny, y1=in_yticks,
              line_color=GRID, line_alpha=0.3, line_width=0.8, **kw)

    n5 = x1 - x0 + 1
    for i in range(len(means)):
        m = np.array(means[i][:n5])
        s = np.array(sds[i][:n5])
        ex = epochs[:n5]
        p.varea(x=ex, y1=m - s, y2=m + s, fill_color=line_colors[i], fill_alpha=band_alphas[i], **kw)
        p.line(ex, m, line_color=line_colors[i], line_width=line_widths[i],
               line_dash=line_dashes[i], **kw)

    p.quad(left=x0, right=x1, bottom=zlo, top=zhi, fill_color=None, line_color="black",
           line_width=1, **kw)
    tl_y = 3.5 / iys
    tl_x = 3.5 / ixs
    p.segment(x0=inset_x_ticks, y0=[zlo] * nx, x1=inset_x_ticks, y1=[zlo - tl_y] * nx,
              line_color="black", line_width=1, **kw)
    p.segment(x0=[x0] * ny, y0=in_yticks, x1=[x0 - tl_x] * ny, y1=in_yticks,
              line_color="black", line_width=1, **kw)
    p.text(x=inset_x_ticks, y=[zlo] * nx, text=inset_x_labels, text_align="center",
           text_baseline="top", y_offset=6, text_font=value(FONT), text_font_size="9px",
           text_color="black", **kw)
    p.text(x=[x0] * ny, y=in_yticks, text=in_ylabels, text_align="right",
           text_baseline="middle", x_offset=-6, text_font=value(FONT), text_font_size="9px",
           text_color="black", **kw)
    p.text(x=[(x0 + x1) / 2], y=[zhi], text=["Zoom: Epochs 1-5"], text_align="center",
           text_baseline="middle", y_offset=-11, text_font=value(FONT), text_font_size="11.5px",
           text_color="black", **kw)
    return p


p_train = build_panel("Delayed Quantum Control | Train Loss (0-40 Epochs)", train_means, train_sds,
                      train_y_limits, train_y_ticks, train_zoom_y, train_inset_y_ticks,
                      train_inset_y_labels, 26, 11, False, 3)
p_test = build_panel("Delayed Quantum Control | Test Loss (0-40 Epochs)", test_means, test_sds,
                     test_y_limits, test_y_ticks, test_zoom_y, test_inset_y_ticks,
                     test_inset_y_labels, 49, 45, True, 7)

# ---------------- legend ----------------
LH = 148
lf = figure(width=W, height=LH, x_range=Range1d(0, 1), y_range=Range1d(0, 1),
            output_backend="svg", toolbar_location=None,
            min_border_left=FRAME_L, min_border_right=0, min_border_top=0, min_border_bottom=0,
            x_axis_location=None, y_axis_location=None)
lf.outline_line_color = None
lf.xgrid.visible = False
lf.ygrid.visible = False
items = []
for i, name in enumerate(series_names):
    r = lf.line(x=[float("nan")], y=[float("nan")], line_color=line_colors[i],
                line_width=line_widths[i], line_dash=line_dashes[i])
    items.append(LegendItem(label=name, renderers=[r]))

common = dict(orientation="vertical", padding=3, margin=0, spacing=3,
              glyph_width=25, glyph_height=15, label_height=15, label_standoff=9,
              label_text_font=FONT, label_text_font_size="11.7px", label_text_color="black")
# left column carries the frame of the whole legend box
leg_a = Legend(items=items[:8], location=(95 - FRAME_L, 1), label_width=448,
               border_line_color="#cccccc", border_line_width=1, border_line_alpha=1.0,
               background_fill_color="white", background_fill_alpha=1.0, **common)
leg_b = Legend(items=items[8:], location=(350 - FRAME_L, 1),
               border_line_color=None, background_fill_alpha=0.0, **common)
lf.add_layout(leg_a)
lf.add_layout(leg_b)

layout = column(p_train, p_test, lf, spacing=0)
open("out.html", "w").write(file_html(layout, INLINE))
